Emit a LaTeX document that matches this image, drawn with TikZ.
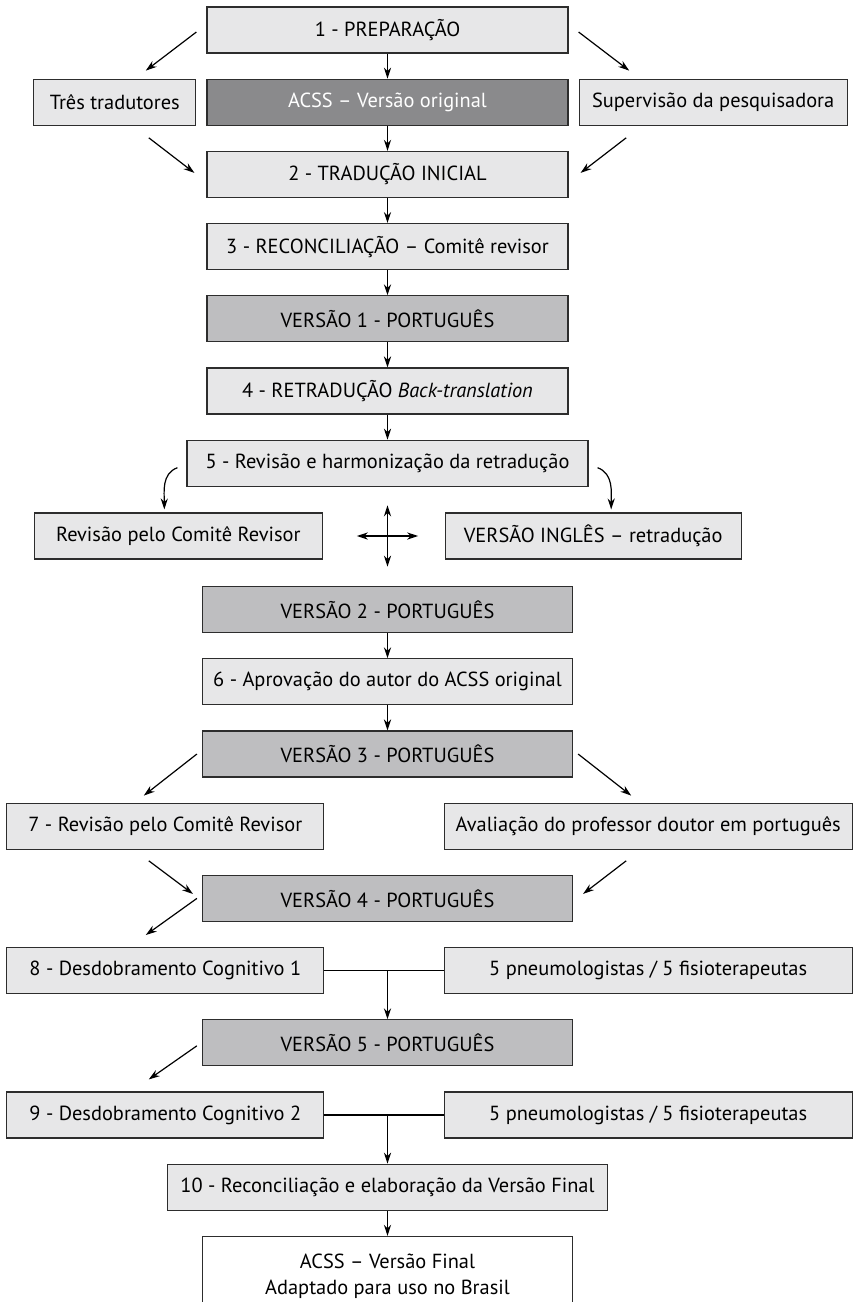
\documentclass[tikz,border=0pt]{standalone}
\usepackage{fontspec}
\setmainfont{PT Sans}
\usepackage{tikz}
\usetikzlibrary{arrows.meta,positioning}

\definecolor{boxgray}{RGB}{231,231,232}
\definecolor{versgray}{RGB}{190,190,192}
\definecolor{origgray}{RGB}{138,138,140}
\definecolor{linegray}{RGB}{45,45,45}

\begin{document}
\begin{tikzpicture}[>={Stealth[length=5.5pt,width=3.6pt]},node distance=12.5pt,
                            semithick,
                            box/.style={draw=linegray,fill=boxgray,minimum height=23pt,
                                        inner sep=2pt,font=\fontsize{10.2}{13}\selectfont},
                            versbox/.style={box,fill=versgray},
                            origbox/.style={box,fill=origgray,text=white},
                            rowmark/.style={minimum height=23pt,minimum width=0pt,inner sep=0pt},
                            crossmark/.style={minimum size=30pt,inner sep=0pt}]

        \useasboundingbox (0,0) rectangle (426pt,-651pt);

        \node[box,minimum width=180.5pt]     (prep)    at (193.75pt,-15pt)        {1 - PREPARAÇÃO};
        \node[origbox,minimum width=180.5pt] (orig)    [below=of prep]            {ACSS -- Versão original};
        \node[box,minimum width=81pt]        (tres)    [left=5pt of orig]         {Três tradutores};
        \node[box,minimum width=134pt]       (superv)  [right=5pt of orig]        {Supervisão da pesquisadora};
        \node[box,minimum width=180.5pt]     (trad)    [below=of orig]            {2 - TRADUÇÃO INICIAL};
        \node[box,minimum width=180.5pt]     (reconc)  [below=of trad]            {3 - RECONCILIAÇÃO -- Comitê revisor};
        \node[versbox,minimum width=180.5pt] (vers1)   [below=of reconc]          {VERSÃO 1 - PORTUGUÊS};
        \node[box,minimum width=180.5pt]     (retrad)  [below=of vers1]           {4 - RETRADUÇÃO \textit{Back-translation}};
        \node[box,minimum width=200.5pt]     (harmon)  [below=of retrad]          {5 - Revisão e harmonização da retradução};
        \node[crossmark]                     (cross)   [below=9.3pt of harmon]    {};
        \node[box,minimum width=144pt]       (comite)  [left=17pt of cross]       {Revisão pelo Comitê Revisor};
        \node[box,minimum width=148pt]       (ingles)  [right=13.25pt of cross]   {VERSÃO INGLÊS -- retradução};
        \node[versbox,minimum width=185pt]   (vers2)   [below=9.7pt of cross]     {VERSÃO 2 - PORTUGUÊS};
        \node[box,minimum width=185pt]       (aprov)   [below=of vers2]           {6 - Aprovação do autor do ACSS original};
        \node[versbox,minimum width=185pt]   (vers3)   [below=of aprov]           {VERSÃO 3 - PORTUGUÊS};
        \node[rowmark]                       (row7)    [below=of vers3]           {};
        \node[box,minimum width=158.5pt]     (comite7) [left=31.25pt of row7]     {7 - Revisão pelo Comitê Revisor};
        \node[box,minimum width=204pt]       (prof)    [right=27.75pt of row7]    {Avaliação do professor doutor em português};
        \node[versbox,minimum width=185pt]   (vers4)   [below=of row7]            {VERSÃO 4 - PORTUGUÊS};
        \node[rowmark]                       (row8)    [below=of vers4]           {};
        \node[box,minimum width=158.5pt]     (desd1)   [left=31.25pt of row8]     {8 - Desdobramento Cognitivo 1};
        \node[box,minimum width=204pt]       (pneumo1) [right=27.75pt of row8]    {5 pneumologistas / 5 fisioterapeutas};
        \node[versbox,minimum width=185pt]   (vers5)   [below=of row8]            {VERSÃO 5 - PORTUGUÊS};
        \node[rowmark]                       (row9)    [below=of vers5]           {};
        \node[box,minimum width=158.5pt]     (desd2)   [left=31.25pt of row9]     {9 - Desdobramento Cognitivo 2};
        \node[box,minimum width=204pt]       (pneumo2) [right=27.75pt of row9]    {5 pneumologistas / 5 fisioterapeutas};
        \node[box,minimum width=220pt]       (final10) [below=of row9]            {10 - Reconciliação e elaboração da Versão Final};
        \node[box,fill=white,minimum width=185pt,minimum height=40pt,align=center]
                                             (final)   [below=of final10]         {ACSS -- Versão Final\\Adaptado para uso no Brasil};

        \path[->] (prep)    edge (orig)
                  (orig)    edge (trad)
                  (trad)    edge (reconc)
                  (reconc)  edge (vers1)
                  (vers1)   edge (retrad)
                  (retrad)  edge (harmon)
                  (vers2)   edge (aprov)
                  (aprov)   edge (vers3)
                  (final10) edge (final);

        \draw[->] ([shift={(-5pt,-1pt)}]prep.west)     -- ([shift={(15.5pt,4pt)}]tres.north);
        \draw[->] ([shift={(5pt,-1pt)}]prep.east)      -- ([shift={(-42pt,4pt)}]superv.north);
        \draw[->] ([shift={(17pt,-6pt)}]tres.south)    -- ([shift={(-6pt,0.75pt)}]trad.west);
        \draw[->] ([shift={(-43.5pt,-6pt)}]superv.south) -- ([shift={(6pt,0.75pt)}]trad.east);

        \draw[->] ([shift={(-4.5pt,-2.25pt)}]harmon.west) to[out=200,in=90] ([shift={(-7pt,1.5pt)}]comite.north);
        \draw[->] ([shift={(4.5pt,-2.25pt)}]harmon.east)  to[out=-20,in=90] ([shift={(9pt,1.5pt)}]ingles.north);
        \draw[<->] (cross.west)  -- (cross.east);
        \draw[<->] (cross.north) -- (cross.south);

        \draw[->] ([xshift=-2.5pt]vers3.west)          -- ([shift={(-10.75pt,3.5pt)}]comite7.north);
        \draw[->] ([xshift=2.5pt]vers3.east)           -- ([shift={(-8.5pt,3.5pt)}]prof.north);
        \draw[->] ([shift={(-8.25pt,-5.5pt)}]comite7.south) -- ([shift={(-4.5pt,2.25pt)}]vers4.west);
        \draw[->] ([shift={(-11pt,-5.5pt)}]prof.south)  -- ([shift={(5pt,2.25pt)}]vers4.east);
        \draw[->] ([xshift=-2.5pt]vers4.west)          -- ([shift={(-9.75pt,6pt)}]desd1.north);
        \draw[->] ([shift={(-2.5pt,-1.5pt)}]vers5.west) -- ([shift={(-8.25pt,6pt)}]desd2.north);

        \draw (desd1) -- (pneumo1);
        \draw[->] (row8.center) -- (vers5);
        \draw (desd2) -- (pneumo2);
        \draw[->] (row9.center) -- (final10);

\end{tikzpicture}
\end{document}
